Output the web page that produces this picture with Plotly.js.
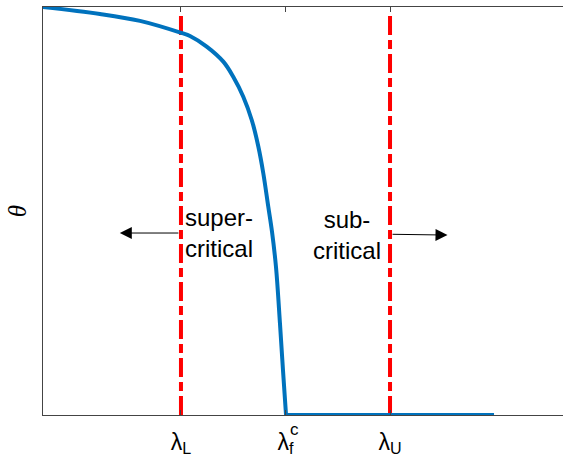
<!DOCTYPE html>
<html>
<head>
<meta charset="utf-8">
<script src="https://cdn.plot.ly/plotly-3.0.1.min.js"></script>
<style>
  html, body { margin: 0; padding: 0; background: #fff; }
  #chart { width: 563px; height: 467px; }
</style>
</head>
<body>
<div id="chart"></div>
<script>
// theta curve, lambda_L = 0, lambda_f^c = 1, lambda_U = 2
const lambdaVals = [-1.321, -0.775, -0.392, 0.01, 0.086, 0.246, 0.405, 0.5, 0.596,
    0.677, 0.74, 0.788, 0.835, 0.871, 0.909, 0.947, 0.976, 1.005];
const thetaVals = [1.0, 0.983, 0.966, 0.936, 0.929, 0.903, 0.866, 0.829, 0.78,
    0.723, 0.658, 0.592, 0.511, 0.449, 0.363, 0.225, 0.11, 0];
const flatX = [1.005, 2.995];
const flatY = [0, 0];

const boundX = [0, 2];               // lambda_L, lambda_U
const boundTop = 0.988;

const tickVals = [0, 1, 2];
const tickText = ['λ<sub>L</sub>', 'λ<sub>f</sub>', 'λ<sub>U</sub>'];

const regionText = ['super-<br>critical', 'sub-<br>critical'];

var traces = [];

boundX.forEach(x => {
    traces.push({
        x: [x, x],
        y: [0, boundTop],
        type: 'scatter',
        mode: 'lines',
        line: { color: '#ff0000', width: 4, dash: '19px,5px,9px,5px' },
        hoverinfo: 'skip'
    });
});

traces.push({
    x: lambdaVals,
    y: thetaVals,
    type: 'scatter',
    mode: 'lines',
    line: { color: '#0072bd', width: 4, shape: 'spline', smoothing: 1 },
    hoverinfo: 'skip'
});
traces.push({
    x: flatX,
    y: flatY,
    type: 'scatter',
    mode: 'lines',
    line: { color: '#0072bd', width: 4 },
    hoverinfo: 'skip'
});

var textFont = { family: 'Liberation Sans, Arial, sans-serif', size: 24, color: '#000' };

var layout = {
    width: 563,
    height: 467,
    margin: { l: 43, r: 0, t: 7, b: 52 },
    paper_bgcolor: '#fff',
    plot_bgcolor: '#fff',
    showlegend: false,
    xaxis: {
        range: [-1.32, 3.655],
        showgrid: false,
        zeroline: false,
        showline: true,
        linecolor: '#444',
        linewidth: 1,
        mirror: 'ticks',
        ticks: 'inside',
        ticklen: 5,
        tickcolor: '#444',
        tickmode: 'array',
        tickvals: tickVals,
        ticktext: tickText,
        ticklabelstandoff: 6,
        tickfont: { family: 'Liberation Sans, Arial, sans-serif', size: 23, color: '#000' }
    },
    yaxis: {
        range: [0, 1],
        showgrid: false,
        zeroline: false,
        showline: true,
        linecolor: '#444',
        linewidth: 1,
        ticks: '',
        showticklabels: false,
        title: {
            text: '<i>θ</i>',
            font: { family: 'Liberation Serif, serif', size: 25, color: '#000' },
            standoff: 8
        }
    },
    annotations: [
        { x: 0.02, y: 0.445, text: regionText[0], showarrow: false, xanchor: 'left',
          align: 'left', font: textFont },
        { x: 1.59, y: 0.44, text: regionText[1], showarrow: false, xanchor: 'center',
          align: 'center', font: textFont },
        // arrows pointing away from the bounds
        { x: -0.585, y: 0.446, ax: -0.01, ay: 0.446, axref: 'x', ayref: 'y',
          text: '', showarrow: true, arrowhead: 2, arrowsize: 2.4, arrowwidth: 1, arrowcolor: '#000' },
        { x: 2.55, y: 0.441, ax: 2.01, ay: 0.443, axref: 'x', ayref: 'y',
          text: '', showarrow: true, arrowhead: 2, arrowsize: 2.4, arrowwidth: 1, arrowcolor: '#000' },
        // superscript c of lambda_f
        { x: 1.09, y: 0, yref: 'y', yshift: -14, text: 'c', showarrow: false,
          font: { family: 'Liberation Sans, Arial, sans-serif', size: 17, color: '#000' } }
    ]
};

Plotly.newPlot('chart', traces, layout, { displayModeBar: false, staticPlot: true });
</script>
</body>
</html>
